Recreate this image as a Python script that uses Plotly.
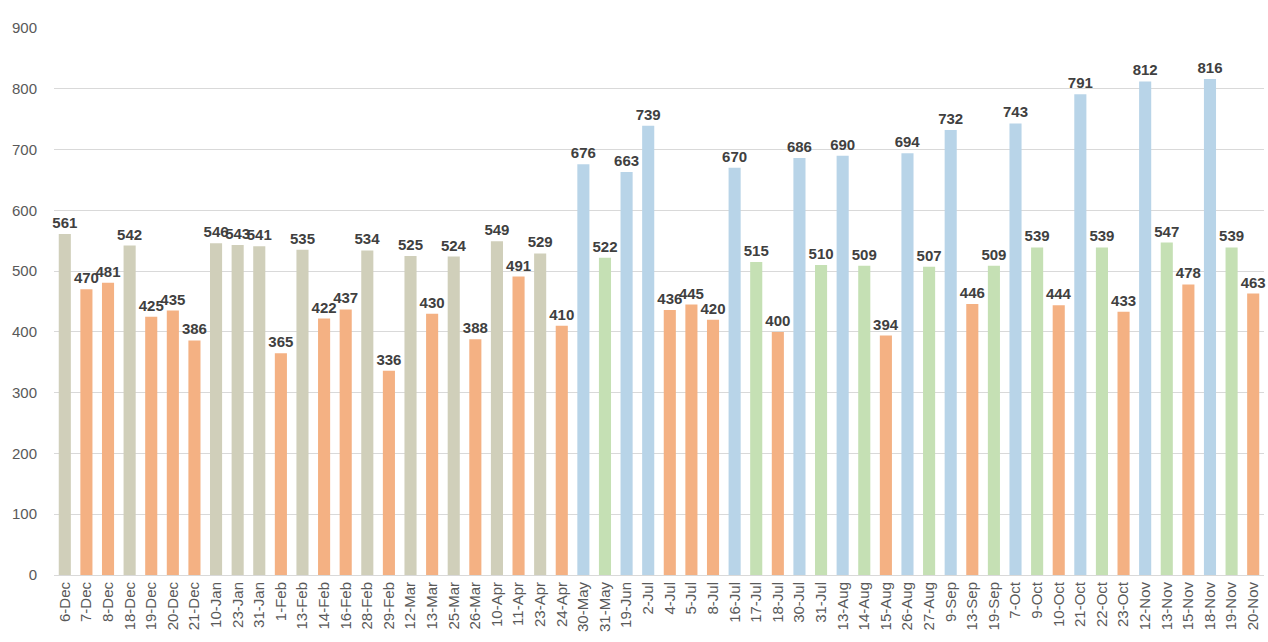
import plotly.graph_objects as go

dates = ["6-Dec", "7-Dec", "8-Dec", "18-Dec", "19-Dec", "20-Dec", "21-Dec", "10-Jan", "23-Jan", "31-Jan",
         "1-Feb", "13-Feb", "14-Feb", "16-Feb", "28-Feb", "29-Feb", "12-Mar", "13-Mar", "25-Mar", "26-Mar",
         "10-Apr", "11-Apr", "23-Apr", "24-Apr", "30-May", "31-May", "19-Jun", "2-Jul", "4-Jul", "5-Jul",
         "8-Jul", "16-Jul", "17-Jul", "18-Jul", "30-Jul", "31-Jul", "13-Aug", "14-Aug", "15-Aug", "26-Aug",
         "27-Aug", "9-Sep", "13-Sep", "19-Sep", "7-Oct", "9-Oct", "10-Oct", "21-Oct", "22-Oct", "23-Oct",
         "12-Nov", "13-Nov", "15-Nov", "18-Nov", "19-Nov", "20-Nov"]

values = [561, 470, 481, 542, 425, 435, 386, 546, 543, 541,
          365, 535, 422, 437, 534, 336, 525, 430, 524, 388,
          549, 491, 529, 410, 676, 522, 663, 739, 436, 445,
          420, 670, 515, 400, 686, 510, 690, 509, 394, 694,
          507, 732, 446, 509, 743, 539, 444, 791, 539, 433,
          812, 547, 478, 816, 539, 463]

groups = ["G", "O", "O", "G", "O", "O", "O", "G", "G", "G",
          "O", "G", "O", "O", "G", "O", "G", "O", "G", "O",
          "G", "O", "G", "O", "B", "N", "B", "B", "O", "O",
          "O", "B", "N", "O", "B", "N", "B", "N", "O", "B",
          "N", "B", "O", "N", "B", "N", "O", "B", "N", "O",
          "B", "N", "O", "B", "N", "O"]

palette = {"G": "#D0CFBA", "O": "#F4B183", "B": "#B8D4E8", "N": "#C5E0B4"}
colors = [palette[g] for g in groups]

fig = go.Figure(go.Bar(
    x=dates, y=values,
    marker=dict(color=colors, line=dict(width=0)),
    text=[str(v) for v in values],
    textposition="outside",
    textfont=dict(family="Liberation Sans, Arial", size=15, color="#404040", weight="bold"),
    constraintext="none",
    cliponaxis=False,
    width=0.56,
    hoverinfo="skip",
))

fig.update_layout(
    width=1268, height=642,
    margin=dict(l=54, r=4, t=28, b=67),
    plot_bgcolor="white", paper_bgcolor="white",
    showlegend=False,
    font=dict(family="Liberation Sans, Arial", color="#595959"),
    xaxis=dict(type="category", tickangle=-90, tickfont=dict(size=15, color="#595959"),
               showline=True, linecolor="#D9D9D9", linewidth=1, ticks="", showgrid=False,
               automargin=False),
    yaxis=dict(range=[0, 900], dtick=100, showgrid=True, gridcolor="#D9D9D9", gridwidth=1,
               zeroline=False, tickfont=dict(size=15, color="#595959"), ticks="",
               ticklabelstandoff=16, automargin=False),
)

fig.write_html(
    "out.html",
    config={"displayModeBar": False},
    post_script="document.body.style.margin='0';document.body.style.overflow='hidden';",
)
